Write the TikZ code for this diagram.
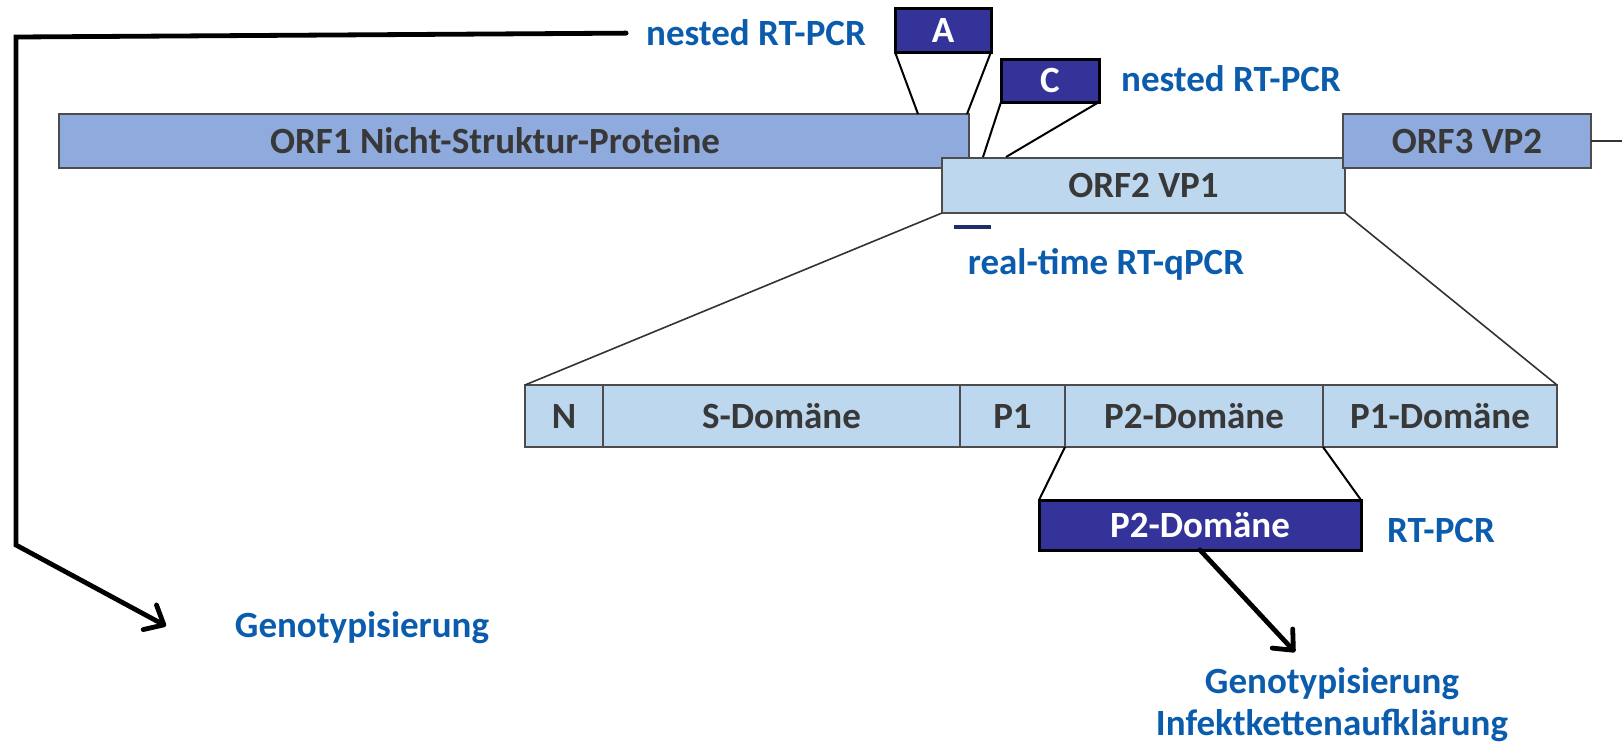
\documentclass[tikz,border=0pt]{standalone}
\usepackage{fontspec}
\setmainfont{Carlito}
\usetikzlibrary{arrows.meta,positioning}
\definecolor{orfdark}{HTML}{8FAADC}
\definecolor{orflight}{HTML}{BDD7EE}
\definecolor{pcrblue}{HTML}{333399}
\definecolor{labelblue}{HTML}{0B5CAD}
\definecolor{textgray}{HTML}{383838}
\definecolor{probebar}{HTML}{1F2D6B}
\begin{document}
\begin{tikzpicture}[
    x=0.5pt, y=-0.5pt,
    every node/.style={font=\fontsize{18.5}{21}\selectfont\bfseries, inner sep=0pt, outer sep=0pt},
    orf/.style={draw=black!70, line width=0.7pt, text=textgray, minimum height=27pt},
    domainbox/.style={orf, fill=orflight, minimum height=31pt},
    amplicon/.style={draw=black, line width=1.5pt, fill=pcrblue, text=white},
    method/.style={text=labelblue, align=center},
    zoomline/.style={draw=black!80, line width=0.8pt},
    pointer/.style={draw=black, line width=2.4pt, line cap=round, line join=miter,
        -{Straight Barb[length=8pt, width=14pt, round]}}
]
\useasboundingbox (0,0) rectangle (1622,746);

% genome
\node[orf, fill=orfdark, minimum width=455pt] (orf1) at (514,141) {ORF1 Nicht-Struktur-Proteine\hspace*{19pt}};
\node[orf, fill=orflight, minimum width=201.5pt, minimum height=27.5pt] (orf2) at (1143.5,185.5) {ORF2 VP1};
\node[orf, fill=orfdark, minimum width=124pt] (orf3) at (1467,141) {ORF3 VP2};
\coordinate (tail) at (1622,141);
\draw[zoomline] (orf3.east) -- (tail);

% amplicons A and C
\node[amplicon, minimum width=48pt, minimum height=22pt] (ampA) at (943,30) {A};
\node[amplicon, minimum width=49pt, minimum height=21.5pt] (ampC) at (1050,80.5) {C};
\node[method] (nestA) at (756,33) {nested RT-PCR};
\node[method] (nestC) at (1231,79) {nested RT-PCR};
\coordinate (a1) at (918,114);
\coordinate (a2) at (967,114);
\coordinate (c1) at (983,157);
\coordinate (c2) at (1006,157);
\draw[line width=1pt] (ampA.south west) -- (a1) (ampA.south east) -- (a2);
\draw[line width=1pt] (ampC.south west) -- (c1) (ampC.south east) -- (c2);

% probe
\fill[probebar] (954,225) rectangle (991,229);
\node[method] (qpcr) at (1106,264) {real-time RT-qPCR};

% VP1 domains
\node[domainbox, minimum width=39pt] (dN) at (564,416) {N};
\node[domainbox, minimum width=178.5pt, right=0pt of dN] (dS) {S-Domäne};
\node[domainbox, minimum width=52.5pt, right=0pt of dS] (dP1) {P1};
\node[domainbox, minimum width=129pt, right=0pt of dP1] (dP2) {P2-Domäne};
\node[domainbox, minimum width=117pt, right=0pt of dP2] (dP1b) {P1-Domäne};
\draw[zoomline] (orf2.south west) -- (dN.north west);
\draw[zoomline] (orf2.south east) -- (dP1b.north east);

% P2 amplicon
\node[amplicon, minimum width=161pt, minimum height=25pt] (ampP2) at (1200,525) {P2-Domäne};
\node[method] (rtpcr) at (1441,530) {RT-PCR};
\draw[line width=1pt] (dP2.south west) -- (ampP2.north west) (dP2.south east) -- (ampP2.north east);

% typing results
\node[method] (genoL) at (362,628) {Genotypisierung};
\node[method] (genoR) at (1332,705) {Genotypisierung\\Infektkettenaufklärung};
\coordinate (bendtop) at (16,37);
\coordinate (bendbot) at (16,545);
\coordinate (tipL) at (166,626);
\coordinate (tipR) at (1295,652);
\draw[pointer, shorten <=10pt] (nestA.west) -- (bendtop) -- (bendbot) -- (tipL);
\draw[pointer] (ampP2.south) -- (tipR);
\end{tikzpicture}
\end{document}
